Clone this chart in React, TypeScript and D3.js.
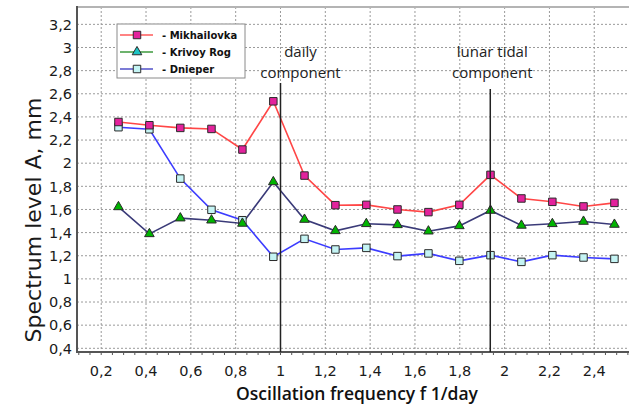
import * as d3 from 'd3';
import { useEffect, useRef } from 'react';

// oscillation frequency, 1/day
const freq = [0.277, 0.415, 0.553, 0.692, 0.830, 0.968, 1.107, 1.245, 1.383, 1.522, 1.660, 1.798, 1.937, 2.075, 2.213, 2.352, 2.490];

const mikhailovka = [2.356, 2.328, 2.305, 2.296, 2.118, 2.535, 1.893, 1.637, 1.640, 1.600, 1.577, 1.640, 1.899, 1.695, 1.666, 1.626, 1.657];
const krivoyRog = [1.622, 1.389, 1.525, 1.507, 1.479, 1.838, 1.513, 1.415, 1.476, 1.467, 1.412, 1.458, 1.591, 1.462, 1.476, 1.496, 1.470];
const dnieper = [2.311, 2.293, 1.867, 1.597, 1.507, 1.191, 1.346, 1.254, 1.268, 1.197, 1.220, 1.156, 1.205, 1.147, 1.205, 1.185, 1.173];

const xTicks = [0.2, 0.4, 0.6, 0.8, 1, 1.2, 1.4, 1.6, 1.8, 2, 2.2, 2.4];
const yTicks = [0.4, 0.6, 0.8, 1, 1.2, 1.4, 1.6, 1.8, 2, 2.2, 2.4, 2.6, 2.8, 3, 3.2];

const markers = [
  { freq: 1, top: 83, lines: ['daily', 'component'] },
  { freq: 1.936, top: 89, lines: ['lunar tidal', 'component'] },
];

const App = () => {
  const svgRef = useRef(null);

  useEffect(() => {
    const svg = d3.select(svgRef.current);
    svg.selectAll('*').remove();

    const left = 77, right = 629, top = 7, bottom = 352;
    const x = d3.scaleLinear().domain([0.092, 2.555]).range([left, right]);
    const y = d3.scaleLinear().domain([0.368, 3.35]).range([bottom, top]);
    const fmt = (v) => String(v).replace('.', ',');

    svg.append('rect').attr('width', 629).attr('height', 407).attr('fill', '#fff');

    // grid
    const grid = svg.append('g').attr('stroke', '#9a9a9a').attr('stroke-dasharray', '2,2').attr('stroke-width', 1);
    grid.selectAll('.vg').data(xTicks).enter().append('line')
      .attr('x1', d => x(d)).attr('x2', d => x(d))
      .attr('y1', top).attr('y2', bottom);
    grid.selectAll('.hg').data(yTicks).enter().append('line')
      .attr('x1', left).attr('x2', right)
      .attr('y1', d => y(d)).attr('y2', d => y(d));

    // frame
    svg.append('line').attr('x1', left).attr('x2', right).attr('y1', top).attr('y2', top)
      .attr('stroke', '#b4b4b4').attr('stroke-width', 2);

    // minor ticks on x
    svg.append('g').selectAll('line').data(d3.range(0.1, 2.56, 0.05)).enter().append('line')
      .attr('x1', d => x(d)).attr('x2', d => x(d))
      .attr('y1', bottom).attr('y2', bottom + 3)
      .attr('stroke', '#555').attr('stroke-width', 1);

    svg.append('line').attr('x1', left).attr('x2', left).attr('y1', top - 1).attr('y2', bottom + 1)
      .attr('stroke', '#555').attr('stroke-width', 2);
    svg.append('line').attr('x1', left - 1).attr('x2', right).attr('y1', bottom).attr('y2', bottom)
      .attr('stroke', '#555').attr('stroke-width', 2);

    // tick labels
    svg.append('g').selectAll('text').data(yTicks).enter().append('text')
      .attr('x', left - 5).attr('y', d => y(d)).attr('dy', '0.36em')
      .attr('text-anchor', 'end')
      .style('font-family', 'DejaVu Sans').style('font-size', '14.5px').attr('fill', '#1a1a1a')
      .text(fmt);
    svg.append('g').selectAll('text').data(xTicks).enter().append('text')
      .attr('x', d => x(d)).attr('y', 376)
      .attr('text-anchor', 'middle')
      .style('font-family', 'DejaVu Sans').style('font-size', '14.5px').attr('fill', '#1a1a1a')
      .text(fmt);

    // axis titles
    svg.append('text').attr('x', 357).attr('y', 400).attr('text-anchor', 'middle')
      .style('font-family', 'Open Sans').style('font-size', '17.5px').style('font-weight', 600)
      .attr('fill', '#111').text('Oscillation frequency f 1/day');
    svg.append('text').attr('transform', 'translate(41,220) rotate(-90)').attr('text-anchor', 'middle')
      .style('font-family', 'DejaVu Sans').style('font-size', '22px')
      .attr('fill', '#1a1a1a').text('Spectrum level A, mm');

    const line = d3.line().x((d, i) => x(freq[i])).y(d => y(d));

    const series = [
      { values: dnieper, stroke: '#3c3cff', fill: '#c4f4f4', shape: 'square' },
      { values: mikhailovka, stroke: '#ff4646', fill: '#e3229c', shape: 'square' },
      { values: krivoyRog, stroke: '#3a3a78', fill: '#00b400', shape: 'triangle' },
    ];

    series.forEach(s => {
      svg.append('path').datum(s.values).attr('d', line)
        .attr('fill', 'none').attr('stroke', s.stroke).attr('stroke-width', 1.6);
    });

    const sym = (shape) => d3.symbol().type(shape === 'square' ? d3.symbolSquare : d3.symbolTriangle)
      .size(shape === 'square' ? 56 : 40)();

    series.forEach(s => {
      svg.append('g').selectAll('path').data(s.values).enter().append('path')
        .attr('d', sym(s.shape))
        .attr('transform', (d, i) => `translate(${x(freq[i])},${y(d)})`)
        .attr('fill', s.fill).attr('stroke', '#2a2a2a').attr('stroke-width', 1);
    });

    // component markers
    markers.forEach(m => {
      const cx = x(m.freq) + (m.freq === 1 ? 20 : 2);
      svg.append('line').attr('x1', x(m.freq)).attr('x2', x(m.freq))
        .attr('y1', m.top).attr('y2', bottom)
        .attr('stroke', '#222').attr('stroke-width', 1.5);
      m.lines.forEach((t, i) => {
        svg.append('text').attr('x', cx).attr('y', 57 + i * 20.8)
          .attr('text-anchor', 'middle')
          .style('font-family', 'Open Sans').style('font-size', '15px').attr('fill', '#222')
          .text(t);
      });
    });

    // legend
    const lg = svg.append('g').attr('transform', 'translate(117,24)');
    lg.append('rect').attr('width', 128).attr('height', 54)
      .attr('fill', '#fff').attr('stroke', '#8a8a8a').attr('stroke-width', 1);
    const legendItems = [
      { name: '- Mikhailovka', stroke: '#ff5a5a', fill: '#e3229c', shape: 'square' },
      { name: '- Krivoy Rog', stroke: '#3c9a3c', fill: '#1cc4c4', shape: 'triangle' },
      { name: '- Dnieper', stroke: '#5050c8', fill: '#c4f4f4', shape: 'square' },
    ];
    legendItems.forEach((it, i) => {
      const ry = 11 + i * 17;
      lg.append('line').attr('x1', 3).attr('x2', 36).attr('y1', ry).attr('y2', ry)
        .attr('stroke', it.stroke).attr('stroke-width', 1.5);
      lg.append('path').attr('d', sym(it.shape)).attr('transform', `translate(20,${ry})`)
        .attr('fill', it.fill).attr('stroke', '#2a2a2a').attr('stroke-width', 1);
      lg.append('text').attr('x', 45).attr('y', ry).attr('dy', '0.36em')
        .style('font-family', 'DejaVu Sans').style('font-size', '10px').style('font-weight', 'bold')
        .attr('fill', '#111').text(it.name);
    });
  }, []);

  return (
    <svg ref={svgRef} width={629} height={407} style={{ position: 'absolute', left: 0, top: 0 }}></svg>
  );
};

export default App;
